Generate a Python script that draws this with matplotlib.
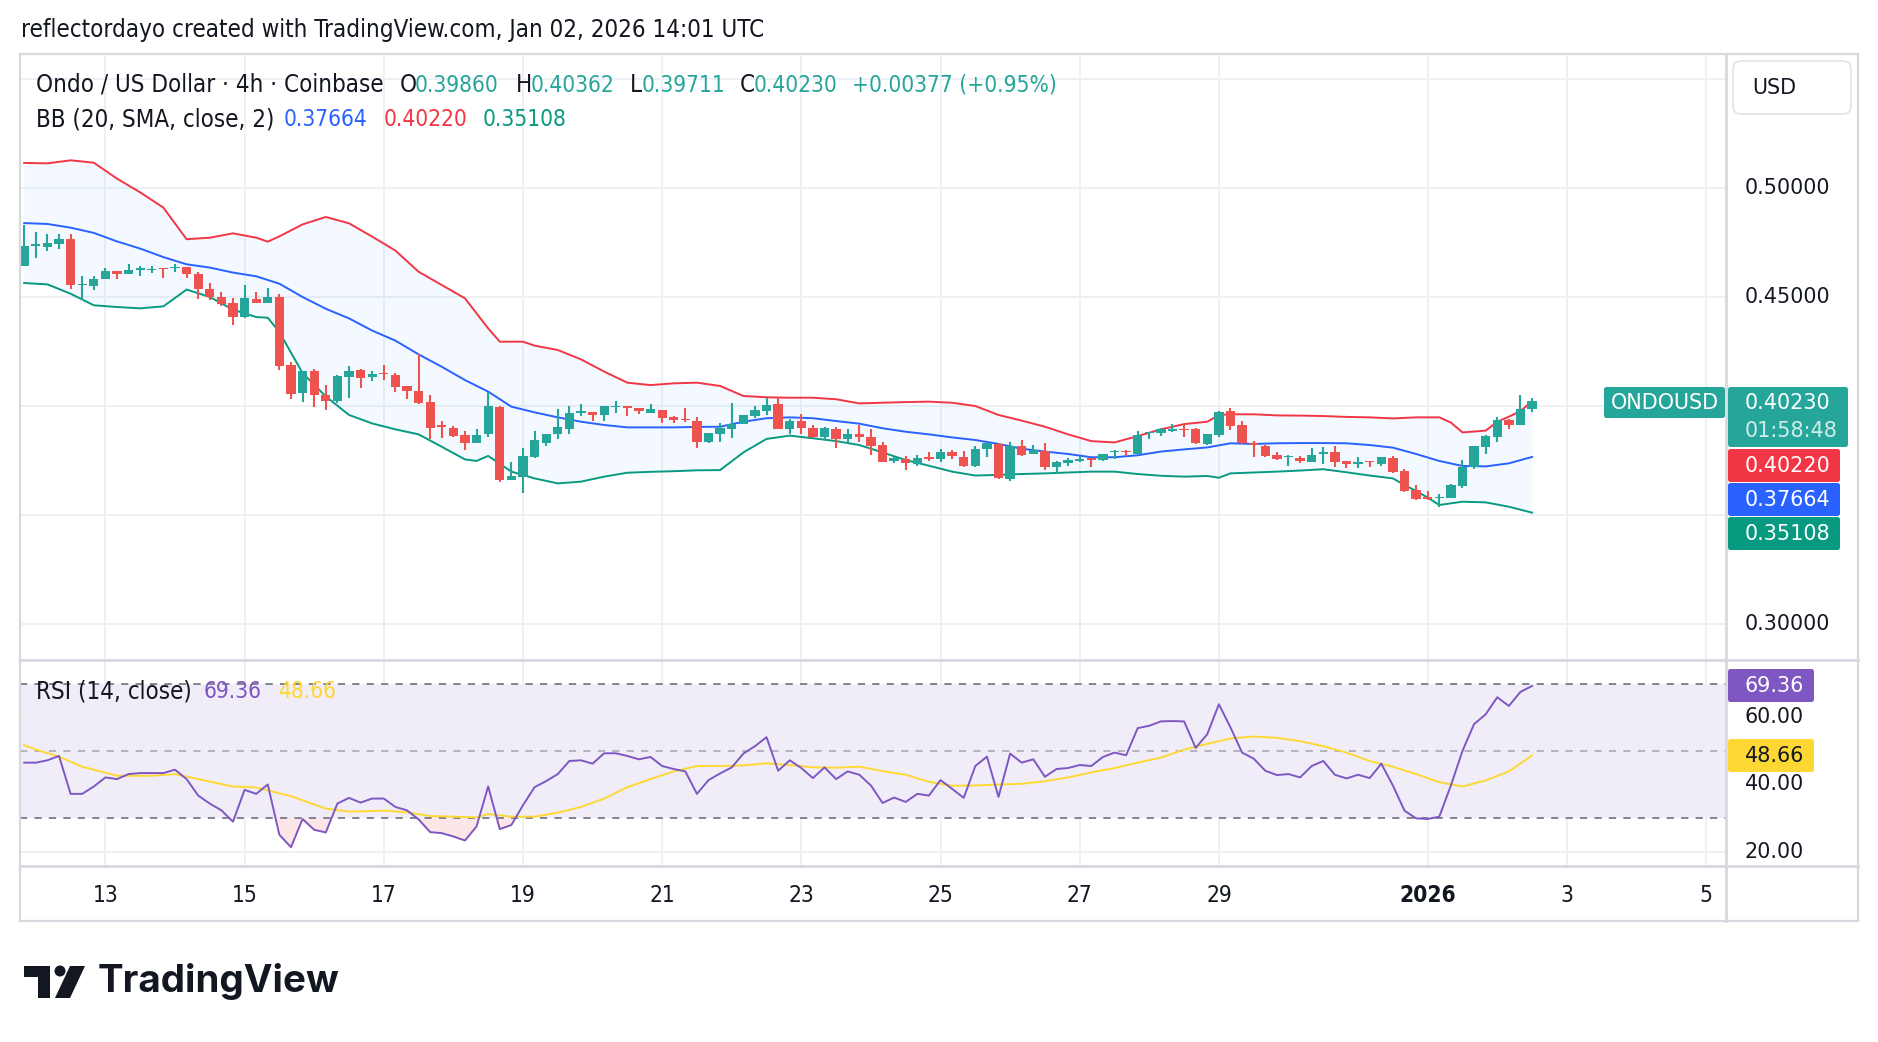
import matplotlib
matplotlib.use("Agg")
import matplotlib.pyplot as plt
import numpy as np
from matplotlib import font_manager
from matplotlib.lines import Line2D
from matplotlib.patches import Circle, FancyBboxPatch, Polygon, Rectangle
from matplotlib.transforms import IdentityTransform, blended_transform_factory

W, H = 1878, 1042

# ONDO/USD 4h candles, first bar Dec 11 20:00 UTC, last bar Jan 2 12:00 UTC
OPEN = [
    0.4642, 0.4732, 0.4729, 0.4742, 0.4765, 0.4554, 0.4549, 0.4583, 0.4618, 0.4605,
    0.4625, 0.4625, 0.4633, 0.4633, 0.4636, 0.4607, 0.4535, 0.4498, 0.4471, 0.4408,
    0.4492, 0.4472, 0.4498, 0.4187, 0.4060, 0.4159, 0.4052, 0.4023, 0.4135, 0.4165,
    0.4135, 0.4150, 0.4142, 0.4092, 0.4069, 0.4018, 0.3911, 0.3899, 0.3865, 0.3832,
    0.3872, 0.3995, 0.3661, 0.3676, 0.3768, 0.3832, 0.3873, 0.3896, 0.3969, 0.3972,
    0.3959, 0.3994, 0.4000, 0.3991, 0.3969, 0.3982, 0.3948, 0.3942, 0.3931, 0.3836,
    0.3873, 0.3896, 0.3916, 0.3956, 0.3979, 0.4008, 0.3893, 0.3931, 0.3901, 0.3859,
    0.3893, 0.3847, 0.3872, 0.3856, 0.3820, 0.3748, 0.3757, 0.3734, 0.3768, 0.3755,
    0.3791, 0.3765, 0.3725, 0.3801, 0.3826, 0.3667, 0.3817, 0.3780, 0.3794, 0.3719,
    0.3740, 0.3746, 0.3760, 0.3752, 0.3789, 0.3794, 0.3780, 0.3875, 0.3875, 0.3887,
    0.3895, 0.3895, 0.3826, 0.3867, 0.3977, 0.3913, 0.3829, 0.3817, 0.3775, 0.3766,
    0.3763, 0.3745, 0.3780, 0.3789, 0.3747, 0.3735, 0.3748, 0.3734, 0.3761, 0.3700,
    0.3613, 0.3583, 0.3577, 0.3577, 0.3635, 0.3722, 0.3813, 0.3859, 0.3936, 0.3911,
    0.39860,
]
HIGH = [
    0.4829, 0.4797, 0.4791, 0.4791, 0.4791, 0.4598, 0.4598, 0.4631, 0.4620, 0.4650,
    0.4644, 0.4641, 0.4635, 0.4653, 0.4639, 0.4615, 0.4563, 0.4524, 0.4494, 0.4554,
    0.4524, 0.4540, 0.4515, 0.4200, 0.4159, 0.4171, 0.4098, 0.4141, 0.4183, 0.4168,
    0.4159, 0.4188, 0.4150, 0.4092, 0.4237, 0.4050, 0.3931, 0.3910, 0.3885, 0.3893,
    0.4063, 0.4000, 0.3745, 0.3806, 0.3885, 0.3870, 0.3985, 0.4000, 0.4008, 0.3972,
    0.4000, 0.4023, 0.4000, 0.3991, 0.4008, 0.3982, 0.3956, 0.3989, 0.3948, 0.3876,
    0.3920, 0.4012, 0.3959, 0.3998, 0.4035, 0.4035, 0.3939, 0.3962, 0.3911, 0.3904,
    0.3904, 0.3893, 0.3913, 0.3894, 0.3833, 0.3768, 0.3771, 0.3775, 0.3787, 0.3801,
    0.3798, 0.3794, 0.3817, 0.3832, 0.3832, 0.3835, 0.3844, 0.3820, 0.3829, 0.3748,
    0.3760, 0.3771, 0.3760, 0.3780, 0.3797, 0.3797, 0.3887, 0.3882, 0.3901, 0.3916,
    0.3916, 0.3898, 0.3872, 0.3979, 0.3989, 0.3931, 0.3839, 0.3820, 0.3787, 0.3775,
    0.3771, 0.3806, 0.3813, 0.3817, 0.3747, 0.3766, 0.3750, 0.3766, 0.3771, 0.3711,
    0.3638, 0.3610, 0.3598, 0.3642, 0.3752, 0.3817, 0.3867, 0.3948, 0.3940, 0.4050,
    0.40362,
]
LOW = [
    0.4642, 0.4680, 0.4711, 0.4720, 0.4538, 0.4485, 0.4534, 0.4583, 0.4583, 0.4604,
    0.4598, 0.4612, 0.4587, 0.4615, 0.4587, 0.4491, 0.4486, 0.4457, 0.4373, 0.4405,
    0.4472, 0.4472, 0.4164, 0.4032, 0.4018, 0.3995, 0.3983, 0.4015, 0.4038, 0.4084,
    0.4115, 0.4119, 0.4064, 0.4032, 0.4008, 0.3850, 0.3853, 0.3859, 0.3800, 0.3832,
    0.3859, 0.3653, 0.3661, 0.3599, 0.3760, 0.3818, 0.3847, 0.3870, 0.3954, 0.3933,
    0.3933, 0.3969, 0.3956, 0.3962, 0.3969, 0.3924, 0.3924, 0.3928, 0.3806, 0.3829,
    0.3836, 0.3855, 0.3916, 0.3946, 0.3959, 0.3893, 0.3873, 0.3873, 0.3852, 0.3844,
    0.3809, 0.3829, 0.3836, 0.3777, 0.3745, 0.3737, 0.3705, 0.3726, 0.3749, 0.3745,
    0.3758, 0.3719, 0.3722, 0.3765, 0.3664, 0.3657, 0.3771, 0.3780, 0.3706, 0.3688,
    0.3726, 0.3743, 0.3722, 0.3748, 0.3755, 0.3771, 0.3780, 0.3850, 0.3862, 0.3882,
    0.3859, 0.3826, 0.3823, 0.3856, 0.3890, 0.3826, 0.3768, 0.3768, 0.3754, 0.3726,
    0.3739, 0.3745, 0.3735, 0.3722, 0.3717, 0.3717, 0.3722, 0.3723, 0.3693, 0.3604,
    0.3570, 0.3567, 0.3538, 0.3577, 0.3622, 0.3709, 0.3780, 0.3833, 0.3893, 0.3911,
    0.39711,
]
CLOSE = [
    0.4732, 0.4742, 0.4748, 0.4765, 0.4554, 0.4561, 0.4584, 0.4618, 0.4604, 0.4622,
    0.4631, 0.4630, 0.4627, 0.4639, 0.4607, 0.4537, 0.4500, 0.4469, 0.4408, 0.4494,
    0.4472, 0.4498, 0.4183, 0.4055, 0.4159, 0.4050, 0.4023, 0.4138, 0.4161, 0.4130,
    0.4147, 0.4145, 0.4089, 0.4070, 0.4015, 0.3901, 0.3902, 0.3862, 0.3832, 0.3869,
    0.4000, 0.3661, 0.3679, 0.3771, 0.3844, 0.3870, 0.3904, 0.3969, 0.3977, 0.3959,
    0.4000, 0.4000, 0.3989, 0.3976, 0.3986, 0.3946, 0.3934, 0.3934, 0.3836, 0.3876,
    0.3901, 0.3916, 0.3959, 0.3980, 0.4005, 0.3893, 0.3931, 0.3901, 0.3859, 0.3898,
    0.3847, 0.3872, 0.3856, 0.3818, 0.3745, 0.3760, 0.3740, 0.3760, 0.3757, 0.3787,
    0.3771, 0.3725, 0.3803, 0.3829, 0.3670, 0.3817, 0.3775, 0.3798, 0.3719, 0.3742,
    0.3752, 0.3757, 0.3752, 0.3780, 0.3794, 0.3789, 0.3867, 0.3879, 0.3893, 0.3895,
    0.3890, 0.3829, 0.3872, 0.3974, 0.3910, 0.3829, 0.3821, 0.3772, 0.3757, 0.3771,
    0.3748, 0.3775, 0.3787, 0.3745, 0.3734, 0.3742, 0.3742, 0.3766, 0.3696, 0.3610,
    0.3573, 0.3573, 0.3583, 0.3638, 0.3720, 0.3817, 0.3864, 0.3936, 0.3911, 0.3987,
    0.40230,
]

# Bollinger bands (20, SMA, close, 2) at these bar indices
UP_IDX = [0, 2, 4, 6, 8, 10, 12, 14, 16, 18, 20, 21, 22, 24, 26, 28, 30, 32, 34, 36,
          38, 40, 41, 43, 44, 46, 48, 50, 52, 54, 56, 58, 60, 62, 64, 66, 68, 70, 72, 74,
          76, 78, 80, 82, 84, 86, 88, 90, 92, 94, 96, 98, 100, 102, 103, 104, 106, 108, 110, 112,
          114, 116, 118, 120, 122, 123, 124, 126, 127, 128, 129, 130]
UP_VAL = [0.5115, 0.5113, 0.5127, 0.5116, 0.5043, 0.4980, 0.4910, 0.4765, 0.4772, 0.4792,
          0.4772, 0.4754, 0.4778, 0.4833, 0.4867, 0.4838, 0.4777, 0.4713, 0.4616, 0.4555,
          0.4494, 0.4356, 0.4295, 0.4295, 0.4277, 0.4257, 0.4214, 0.4158, 0.4107, 0.4096,
          0.4104, 0.4107, 0.4092, 0.4046, 0.4040, 0.4038, 0.4038, 0.4031, 0.4012, 0.4015,
          0.4018, 0.4020, 0.4015, 0.4000, 0.3959, 0.3933, 0.3905, 0.3870, 0.3839, 0.3833,
          0.3862, 0.3893, 0.3917, 0.3928, 0.3959, 0.3962, 0.3962, 0.3957, 0.3956, 0.3954,
          0.3950, 0.3948, 0.3943, 0.3948, 0.3948, 0.3924, 0.3879, 0.3887, 0.3928, 0.3951,
          0.3977, 0.40220]
MID_IDX = list(range(0, 131, 2))
MID_VAL = [0.4839, 0.4835, 0.4818, 0.4794, 0.4755, 0.4722, 0.4683, 0.4650, 0.4635, 0.4612,
           0.4595, 0.4561, 0.4500, 0.4446, 0.4402, 0.4346, 0.4300, 0.4237, 0.4180, 0.4119,
           0.4066, 0.3997, 0.3971, 0.3948, 0.3928, 0.3913, 0.3902, 0.3902, 0.3902, 0.3904,
           0.3905, 0.3928, 0.3944, 0.3948, 0.3944, 0.3931, 0.3919, 0.3898, 0.3882, 0.3870,
           0.3856, 0.3844, 0.3826, 0.3804, 0.3791, 0.3780, 0.3765, 0.3765, 0.3774, 0.3791,
           0.3801, 0.3810, 0.3829, 0.3826, 0.3829, 0.3830, 0.3830, 0.3829, 0.3821, 0.3809,
           0.3780, 0.3748, 0.3725, 0.3723, 0.3737, 0.37664]
LO_IDX = [0, 2, 4, 6, 8, 10, 12, 14, 16, 18, 20, 21, 22, 24, 26, 28, 30, 32, 34, 36,
          38, 39, 40, 42, 44, 46, 48, 50, 52, 54, 56, 58, 60, 62, 64, 66, 68, 70, 72, 74,
          76, 78, 80, 82, 84, 86, 88, 90, 92, 94, 96, 98, 100, 102, 103, 104, 106, 108, 110, 112,
          114, 116, 118, 119, 120, 121, 122, 124, 126, 128, 130]
LO_VAL = [0.4564, 0.4558, 0.4515, 0.4462, 0.4454, 0.4448, 0.4457, 0.4534, 0.4500, 0.4442,
          0.4408, 0.4405, 0.4339, 0.4151, 0.4044, 0.3959, 0.3920, 0.3893, 0.3870, 0.3813,
          0.3755, 0.3748, 0.3771, 0.3699, 0.3668, 0.3645, 0.3653, 0.3676, 0.3694, 0.3698,
          0.3701, 0.3705, 0.3706, 0.3787, 0.3849, 0.3864, 0.3852, 0.3839, 0.3821, 0.3787,
          0.3752, 0.3726, 0.3699, 0.3681, 0.3684, 0.3688, 0.3691, 0.3695, 0.3699, 0.3699,
          0.3688, 0.3680, 0.3676, 0.3679, 0.3671, 0.3691, 0.3695, 0.3699, 0.3704, 0.3710,
          0.3696, 0.3681, 0.3668, 0.3638, 0.3610, 0.3580, 0.3546, 0.3561, 0.3558, 0.3538,
          0.35108]

# RSI (14, close), one value per bar
RSI = [
    46.5, 46.5, 47.2, 48.5, 37.2, 37.2, 39.4, 42.1, 41.6, 43.1,
    43.4, 43.4, 43.4, 44.4, 41.6, 36.7, 34.3, 32.3, 28.9, 38.4,
    37.2, 40.0, 25.0, 21.3, 29.7, 26.5, 25.7, 34.3, 36.0, 34.6,
    35.8, 35.8, 33.3, 32.3, 29.6, 25.8, 25.5, 24.5, 23.3, 27.5,
    39.4, 26.7, 27.9, 33.8, 39.2, 41.0, 43.1, 47.0, 47.2, 46.2,
    49.3, 49.3, 48.5, 47.5, 48.2, 45.5, 44.6, 43.9, 37.2, 41.3,
    43.3, 45.1, 49.2, 51.4, 54.1, 44.1, 47.2, 44.9, 41.9, 45.1,
    41.6, 43.9, 42.9, 39.7, 34.5, 36.1, 34.8, 37.2, 36.7, 41.3,
    38.7, 36.0, 45.5, 48.3, 36.3, 49.2, 46.5, 47.5, 42.3, 44.6,
    44.9, 45.8, 45.5, 48.2, 49.5, 48.7, 56.8, 57.5, 58.8, 58.9,
    58.8, 50.9, 55.0, 63.9, 57.0, 49.5, 47.7, 44.1, 42.8, 43.1,
    42.1, 45.5, 47.0, 42.9, 41.8, 42.9, 41.9, 46.2, 39.7, 32.2,
    29.9, 29.7, 30.4, 39.7, 50.0, 58.0, 60.9, 66.0, 63.4, 67.6,
    69.36,
]
# RSI-based moving average
MA_IDX = [0, 1, 3, 5, 8, 11, 13, 15, 18, 20, 23, 26, 28, 31, 33, 35, 37, 39, 40, 42,
          44, 46, 48, 50, 52, 54, 56, 58, 60, 62, 64, 66, 68, 70, 72, 74, 76, 78, 80, 82,
          84, 86, 88, 90, 92, 94, 96, 98, 100, 102, 104, 106, 108, 110, 112, 114, 116, 118, 120, 122,
          124, 126, 128, 130]
MA_VAL = [51.7, 50.4, 48.3, 45.3, 42.6, 42.6, 43.1, 41.6, 39.4, 39.1,
          36.5, 32.8, 31.9, 32.2, 31.7, 30.6, 30.4, 30.2, 31.2, 30.4,
          30.4, 31.6, 33.3, 35.8, 39.2, 41.6, 43.9, 45.5, 45.5, 45.7,
          46.3, 45.8, 45.1, 45.0, 45.3, 44.0, 42.9, 40.8, 39.6, 39.7,
          40.0, 40.2, 41.0, 42.1, 43.6, 44.9, 46.5, 48.0, 50.4, 52.1,
          53.7, 54.3, 53.9, 52.9, 51.4, 49.5, 47.0, 45.3, 43.1, 40.7,
          39.4, 41.2, 43.9, 48.66]

# day ticks (bar index of 00:00 UTC)
DATE_POS = [7, 19, 31, 43, 55, 67, 79, 91, 103, 121, 133, 145]
DATE_LABELS = ["13", "15", "17", "19", "21", "23", "25", "27", "29", "2026", "3", "5"]
PRICE_TICKS = [0.30, 0.35, 0.40, 0.45, 0.50, 0.55]
PRICE_LABELED = [0.30, 0.45, 0.50]   # 0.40 / 0.35 sit under the value tags
RSI_TICKS = [20, 40, 60]

UP_C, DN_C = "#26a69a", "#ef5350"
BB_UP, BB_MID, BB_LO = "#f23645", "#2962ff", "#089981"
RSI_C, MA_C = "#7e57c2", "#fdd835"
TXT = "#131722"
GRID = "#eef0f3"
SEP = "#d6d9e0"

names = {f.name for f in font_manager.fontManager.ttflist}
if "Liberation Sans Narrow" in names:
    COND = dict(family="Liberation Sans Narrow")
else:
    COND = dict(family="DejaVu Sans", stretch="condensed")
AXF = dict(family="DejaVu Sans")
LOGO_F = dict(family="Inter" if "Inter" in names else "DejaVu Sans", weight="bold")

fig = plt.figure(figsize=(W / 100, H / 100), dpi=100)
fig.patch.set_facecolor("white")
R = fig.canvas.get_renderer()


def ftext(x, y, s, **kw):
    return fig.text(x / W, 1 - y / H, s, **kw)


def fit(s, width, **kw):
    t = fig.text(0, 0, s, fontsize=10, **kw)
    w = t.get_window_extent(R).width
    t.remove()
    return 10 * width / w


def row(y, pieces, font):
    # pieces: (left x in px, text, colour, size)
    for x, s, color, size in pieces:
        ftext(x, y, s, color=color, fontsize=size, va="center", ha="left", **font)


def box(x0, y0, x1, y1, fc, ec="none", r=2.5, lw=0, z=2):
    p = FancyBboxPatch((x0, H - y1), x1 - x0, y1 - y0,
                       boxstyle=f"round,pad=0,rounding_size={r}",
                       fc=fc, ec=ec, lw=lw, transform=IdentityTransform(), zorder=z)
    fig.add_artist(p)


def hline(x0, x1, y, color=SEP, lw=1.6):
    fig.add_artist(Line2D([x0 / W, x1 / W], [1 - y / H, 1 - y / H], color=color, lw=lw,
                          transform=fig.transFigure, zorder=1))


def vline(x, y0, y1, color=SEP, lw=1.6):
    fig.add_artist(Line2D([x / W, x / W], [1 - y0 / H, 1 - y1 / H], color=color, lw=lw,
                          transform=fig.transFigure, zorder=1))


# ---- panels ----
ax = fig.add_axes([20 / W, 1 - 660 / H, 1706 / W, 605 / H])
rax = fig.add_axes([20 / W, 1 - 866 / H, 1706 / W, 206 / H], sharex=ax)
for a in (ax, rax):
    for sp in a.spines.values():
        sp.set_visible(False)
    a.set_facecolor("none")
    a.tick_params(length=0, labelbottom=False, labelleft=False)
    a.grid(True, color=GRID, lw=1.4)
    a.set_axisbelow(True)

ax.set_xlim(-0.362, 146.72)
ax.set_ylim(0.2835, 0.5610)
ax.set_xticks(DATE_POS)
ax.set_yticks(PRICE_TICKS)
rax.set_ylim(15.7, 77.1)
rax.set_yticks(RSI_TICKS)

idx = np.arange(len(CLOSE))
o, h, l, c = map(np.array, (OPEN, HIGH, LOW, CLOSE))
cols = np.where(c >= o, UP_C, DN_C)

# Bollinger band fill + lines
ax.fill(np.r_[UP_IDX, LO_IDX[::-1]], np.r_[UP_VAL, LO_VAL[::-1]],
        color="#2196f3", alpha=0.05, lw=0, zorder=1)
ax.plot(UP_IDX, UP_VAL, color=BB_UP, lw=1.4, zorder=2)
ax.plot(MID_IDX, MID_VAL, color=BB_MID, lw=1.4, zorder=2)
ax.plot(LO_IDX, LO_VAL, color=BB_LO, lw=1.4, zorder=2)

# candles
ax.vlines(idx, l, h, colors=cols, lw=1.5, zorder=3)
ax.bar(idx, np.maximum(np.abs(c - o), 0.0005), bottom=np.minimum(o, c), width=0.8,
       color=cols, lw=0, zorder=4)

# RSI panel
rsi = np.array(RSI)
rax.axhspan(30, 70, color=RSI_C, alpha=0.1, lw=0, zorder=0)
rax.fill_between(idx, rsi, 30, where=rsi < 30, interpolate=True, color="#f23645",
                 alpha=0.12, lw=0, zorder=1)
for lv, al in ((70, 1.0), (50, 0.55), (30, 1.0)):
    rax.axhline(lv, color="#787b86", lw=1.3, ls=(0, (4, 4)), alpha=al, zorder=1)
rax.plot(MA_IDX, MA_VAL, color=MA_C, lw=1.4, zorder=2)
rax.plot(idx, rsi, color=RSI_C, lw=1.4, zorder=3)

# ---- frame / separators ----
hline(20, 1858, 54)
hline(20, 1858, 921)
vline(20, 54, 921)
vline(1858, 54, 921)
vline(1726, 54, 921, lw=2)
hline(20, 1858, 660, lw=2)
hline(20, 1858, 866, lw=2)

# ---- axis labels ----
ax_size = fit("0.50000", 85, **AXF)
pt = blended_transform_factory(ax.transAxes, ax.transData)
for v in PRICE_LABELED:
    ax.text(1.0111, v, f"{v:.5f}", transform=pt, ha="left", va="center", color=TXT,
            fontsize=ax_size, clip_on=False, **AXF)
rt = blended_transform_factory(rax.transAxes, rax.transData)
for v in RSI_TICKS:
    rax.text(1.0111, v, f"{v:.2f}", transform=rt, ha="left", va="center", color=TXT,
             fontsize=ax_size, clip_on=False, **AXF)

leg_size = fit("Ondo / US Dollar · 4h · Coinbase", 347, **COND)
num_size = min(leg_size, fit("0.39860", 84, **COND))
xt = blended_transform_factory(rax.transData, rax.transAxes)
for p_, lab in zip(DATE_POS, DATE_LABELS):
    rax.text(p_, -30 / 206, lab, transform=xt, ha="center", va="center", color=TXT,
             fontsize=num_size, clip_on=False,
             fontweight="bold" if lab == "2026" else "normal", **COND)

# ---- tags on the price scale ----
box(1733, 61, 1851, 114, "white", ec="#e0e3eb", r=8, lw=1.2)
ftext(1752, 88, "USD", fontsize=ax_size, va="center", ha="left", color=TXT, **AXF)

box(1604, 387, 1725, 418, UP_C)
ftext(1665, 403, "ONDOUSD", fontsize=ax_size, va="center", ha="center", color="white", **AXF)
box(1728, 387, 1848, 447, UP_C)
ftext(1745, 403, f"{CLOSE[-1]:.5f}", fontsize=ax_size, va="center", color="white", **AXF)
ftext(1745, 431, "01:58:48", fontsize=ax_size, va="center", color="white", alpha=0.8, **AXF)
box(1728, 449, 1840, 482, BB_UP)
ftext(1745, 466, f"{UP_VAL[-1]:.5f}", fontsize=ax_size, va="center", color="white", **AXF)
box(1728, 483, 1840, 516, BB_MID)
ftext(1745, 500, f"{MID_VAL[-1]:.5f}", fontsize=ax_size, va="center", color="white", **AXF)
box(1728, 517, 1840, 550, BB_LO)
ftext(1745, 534, f"{LO_VAL[-1]:.5f}", fontsize=ax_size, va="center", color="white", **AXF)
box(1728, 669, 1814, 702, RSI_C)
ftext(1745, 686, f"{RSI[-1]:.2f}", fontsize=ax_size, va="center", color="white", **AXF)
box(1728, 739, 1814, 772, MA_C)
ftext(1745, 756, f"{MA_VAL[-1]:.2f}", fontsize=ax_size, va="center", color=TXT, **AXF)

# ---- legends ----
hdr = "reflectordayo created with TradingView.com, Jan 02, 2026 14:01 UTC"
ftext(21, 30, hdr, fontsize=fit(hdr, 745, **COND), va="center", color=TXT, **COND)

L, N = leg_size, num_size
row(85, [(36, "Ondo / US Dollar · 4h · Coinbase", TXT, L),
         (400, "O", TXT, L), (415, f"{OPEN[-1]:.5f}", UP_C, N),
         (516, "H", TXT, L), (531, f"{HIGH[-1]:.5f}", UP_C, N),
         (630, "L", TXT, L), (642, f"{LOW[-1]:.5f}", UP_C, N),
         (740, "C", TXT, L), (754, f"{CLOSE[-1]:.5f}", UP_C, N),
         (852, "+0.00377 (+0.95%)", UP_C, N)], COND)
row(119, [(36, "BB (20, SMA, close, 2)", TXT, L),
          (284, f"{MID_VAL[-1]:.5f}", BB_MID, N),
          (384, f"{UP_VAL[-1]:.5f}", BB_UP, N),
          (483, f"{LO_VAL[-1]:.5f}", BB_LO, N)], COND)
row(692, [(36, "RSI (14, close)", TXT, L),
          (204, f"{RSI[-1]:.2f}", RSI_C, N),
          (278, f"{MA_VAL[-1]:.2f}", MA_C, N)], COND)

# ---- TradingView logo ----
tf = IdentityTransform()
fig.add_artist(Rectangle((24, H - 977), 26, 11, fc="#131722", transform=tf))
fig.add_artist(Rectangle((38, H - 998), 12, 32, fc="#131722", transform=tf))
fig.add_artist(Circle((60, H - 971), 5.5, fc="#131722", transform=tf))
fig.add_artist(Polygon([(70, H - 966), (85, H - 966), (70, H - 998), (55, H - 998)],
                       closed=True, fc="#131722", transform=tf))
logo_size = fit("TradingView", 242, **LOGO_F)
ftext(98, 982, "TradingView", fontsize=logo_size, va="center", color="#131722", **LOGO_F)

fig.savefig("out.png", dpi=100, facecolor="white")
